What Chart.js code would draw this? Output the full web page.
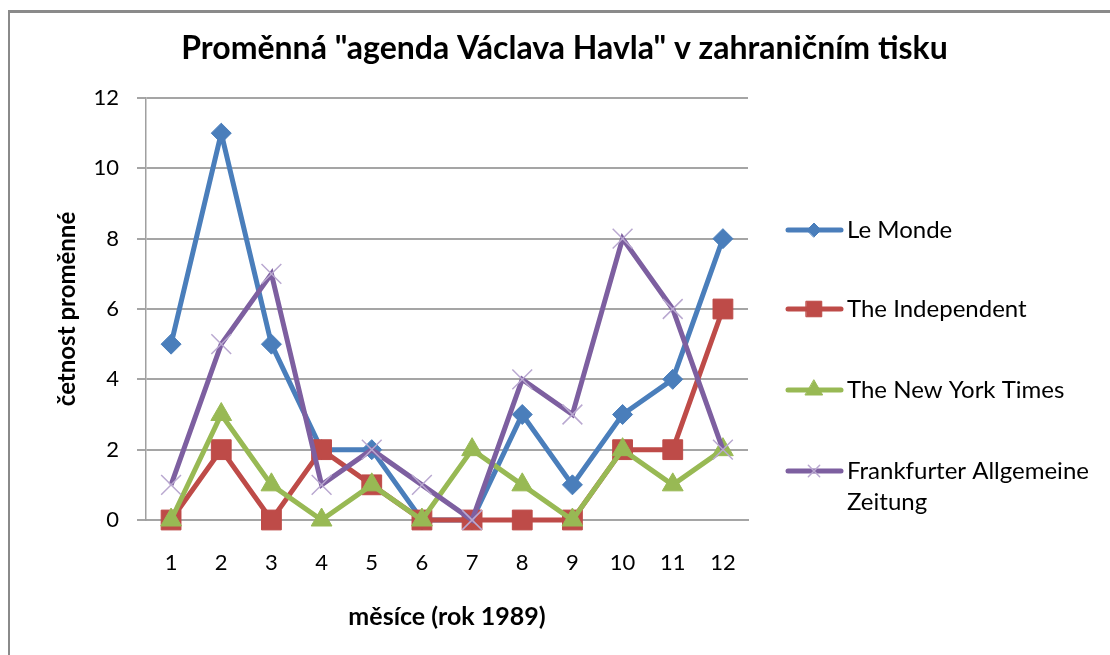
<!DOCTYPE html>
<html>
<head>
<meta charset="utf-8">
<script src="https://cdn.jsdelivr.net/npm/chart.js@4.4.1/dist/chart.umd.min.js"></script>
<style>
  html, body { margin: 0; padding: 0; background: #fff; }
  #wrap { position: relative; width: 1110px; height: 655px; }
  #frame { position: absolute; left: 8px; top: 10px; right: -10px; bottom: -10px;
           border-left: 2px solid #8a8a8a; border-top: 3px solid #8a8a8a; pointer-events: none; }
</style>
</head>
<body>
<div id="wrap">
  <canvas id="chart" width="1110" height="655"></canvas>
  <div id="frame"></div>
</div>
<script>
// data
const months = ['1', '2', '3', '4', '5', '6', '7', '8', '9', '10', '11', '12'];
const leMonde      = [5, 11, 5, 2, 2, 0, 0, 3, 1, 3, 4, 8];
const independent  = [0, 2, 0, 2, 1, 0, 0, 0, 0, 2, 2, 6];
const nyTimes      = [0, 3, 1, 0, 1, 0, 2, 1, 0, 2, 1, 2];
const faz          = [1, 5, 7, 1, 2, 1, 0, 4, 3, 8, 6, 2];
const seriesNames  = ['Le Monde', 'The Independent', 'The New York Times', ['Frankfurter Allgemeine', 'Zeitung']];

const FONT = 'Lato, "Open Sans", sans-serif';

// legend drawn on the right like the Excel one
const legendY = [230, 309, 390, 471];
const legendMarkerRadius = [7, 11, 10, 8];

const sideLegend = {
  id: 'sideLegend',
  afterDraw(chart) {
    const ctx = chart.ctx;
    chart.data.datasets.forEach((ds, i) => {
      const y = legendY[i];
      ctx.save();
      ctx.strokeStyle = ds.borderColor;
      ctx.lineWidth = ds.borderWidth;
      ctx.lineCap = 'round';
      ctx.beginPath();
      ctx.moveTo(788, y);
      ctx.lineTo(841, y);
      ctx.stroke();

      ctx.fillStyle = ds.pointBackgroundColor;
      ctx.strokeStyle = ds.pointBorderColor;
      ctx.lineWidth = ds.pointBorderWidth;
      Chart.helpers.drawPoint(ctx, {
        pointStyle: ds.pointStyle,
        radius: legendMarkerRadius[i],
        rotation: 0,
        borderWidth: ds.pointBorderWidth
      }, 814, y);

      ctx.fillStyle = '#000';
      ctx.font = '24px ' + FONT;
      ctx.textAlign = 'left';
      ctx.textBaseline = 'middle';
      const lines = Array.isArray(ds.label) ? ds.label : [ds.label];
      lines.forEach((t, k) => ctx.fillText(t, 847, y + k * 31));
      ctx.restore();
    });
  }
};

new Chart(document.getElementById('chart'), {
  type: 'line',
  data: {
    labels: months,
    datasets: [
      {
        label: seriesNames[0], data: leMonde,
        borderColor: '#4A7EBB', borderWidth: 5,
        pointStyle: 'rectRot', pointRadius: 10,
        pointBackgroundColor: '#4A7EBB', pointBorderColor: '#4A7EBB', pointBorderWidth: 1,
        order: 3
      },
      {
        label: seriesNames[1], data: independent,
        borderColor: '#BE4B48', borderWidth: 5,
        pointStyle: 'rect', pointRadius: 14,
        pointBackgroundColor: '#BE4B48', pointBorderColor: '#BE4B48', pointBorderWidth: 1,
        order: 2
      },
      {
        label: seriesNames[2], data: nyTimes,
        borderColor: '#98B954', borderWidth: 5,
        pointStyle: 'triangle', pointRadius: 12,
        pointBackgroundColor: '#98B954', pointBorderColor: '#98B954', pointBorderWidth: 1,
        order: 1
      },
      {
        label: seriesNames[3], data: faz,
        borderColor: '#7D5FA0', borderWidth: 5,
        pointStyle: 'crossRot', pointRadius: 14,
        pointBackgroundColor: '#B9A8D0', pointBorderColor: '#B9A8D0', pointBorderWidth: 1.5,
        order: 0
      }
    ]
  },
  options: {
    responsive: false,
    animation: false,
    devicePixelRatio: 1,
    layout: { padding: { left: 45, right: 26, top: 0, bottom: 23 } },
    elements: { line: { tension: 0 } },
    datasets: { line: { clip: false } },
    plugins: {
      legend: { display: false },
      tooltip: { enabled: false },
      title: {
        display: true,
        text: 'Proměnná "agenda Václava Havla" v zahraničním tisku',
        color: '#000',
        font: { family: FONT, size: 32, weight: 'bold' },
        padding: { top: 29, bottom: 30.6 }
      }
    },
    scales: {
      x: {
        offset: true,
        afterFit(scale) { scale.height = 112; },
        grid: { display: false, drawTicks: false },
        border: { display: true, color: '#a5a5a5', width: 2 },
        ticks: { color: '#000', font: { family: FONT, size: 22 }, padding: 30, maxRotation: 0 },
        title: {
          display: true, text: 'měsíce (rok 1989)', color: '#000',
          font: { family: FONT, size: 25, weight: 'bold' },
          padding: { top: 0, bottom: 0 }
        }
      },
      y: {
        min: 0, max: 12,
        afterFit(scale) { scale.width = 101; },
        grid: { color: '#a5a5a5', lineWidth: 2, tickLength: 9, drawTicks: true },
        border: { display: true, color: '#a0a0a0', width: 1.5 },
        ticks: { stepSize: 2, color: '#000', font: { family: FONT, size: 22 }, padding: 18 },
        title: {
          display: true, text: 'četnost proměnné', color: '#000',
          font: { family: FONT, size: 24, weight: 'bold' },
          padding: { top: 8, bottom: 0 }
        }
      },
      // empty space on the right that holds the legend
      legendSpace: {
        type: 'linear', axis: 'y', position: 'right',
        afterFit(scale) { scale.width = 336; },
        grid: { display: false, drawTicks: false },
        border: { display: false },
        ticks: { display: false }
      }
    }
  },
  plugins: [sideLegend]
});
</script>
</body>
</html>
